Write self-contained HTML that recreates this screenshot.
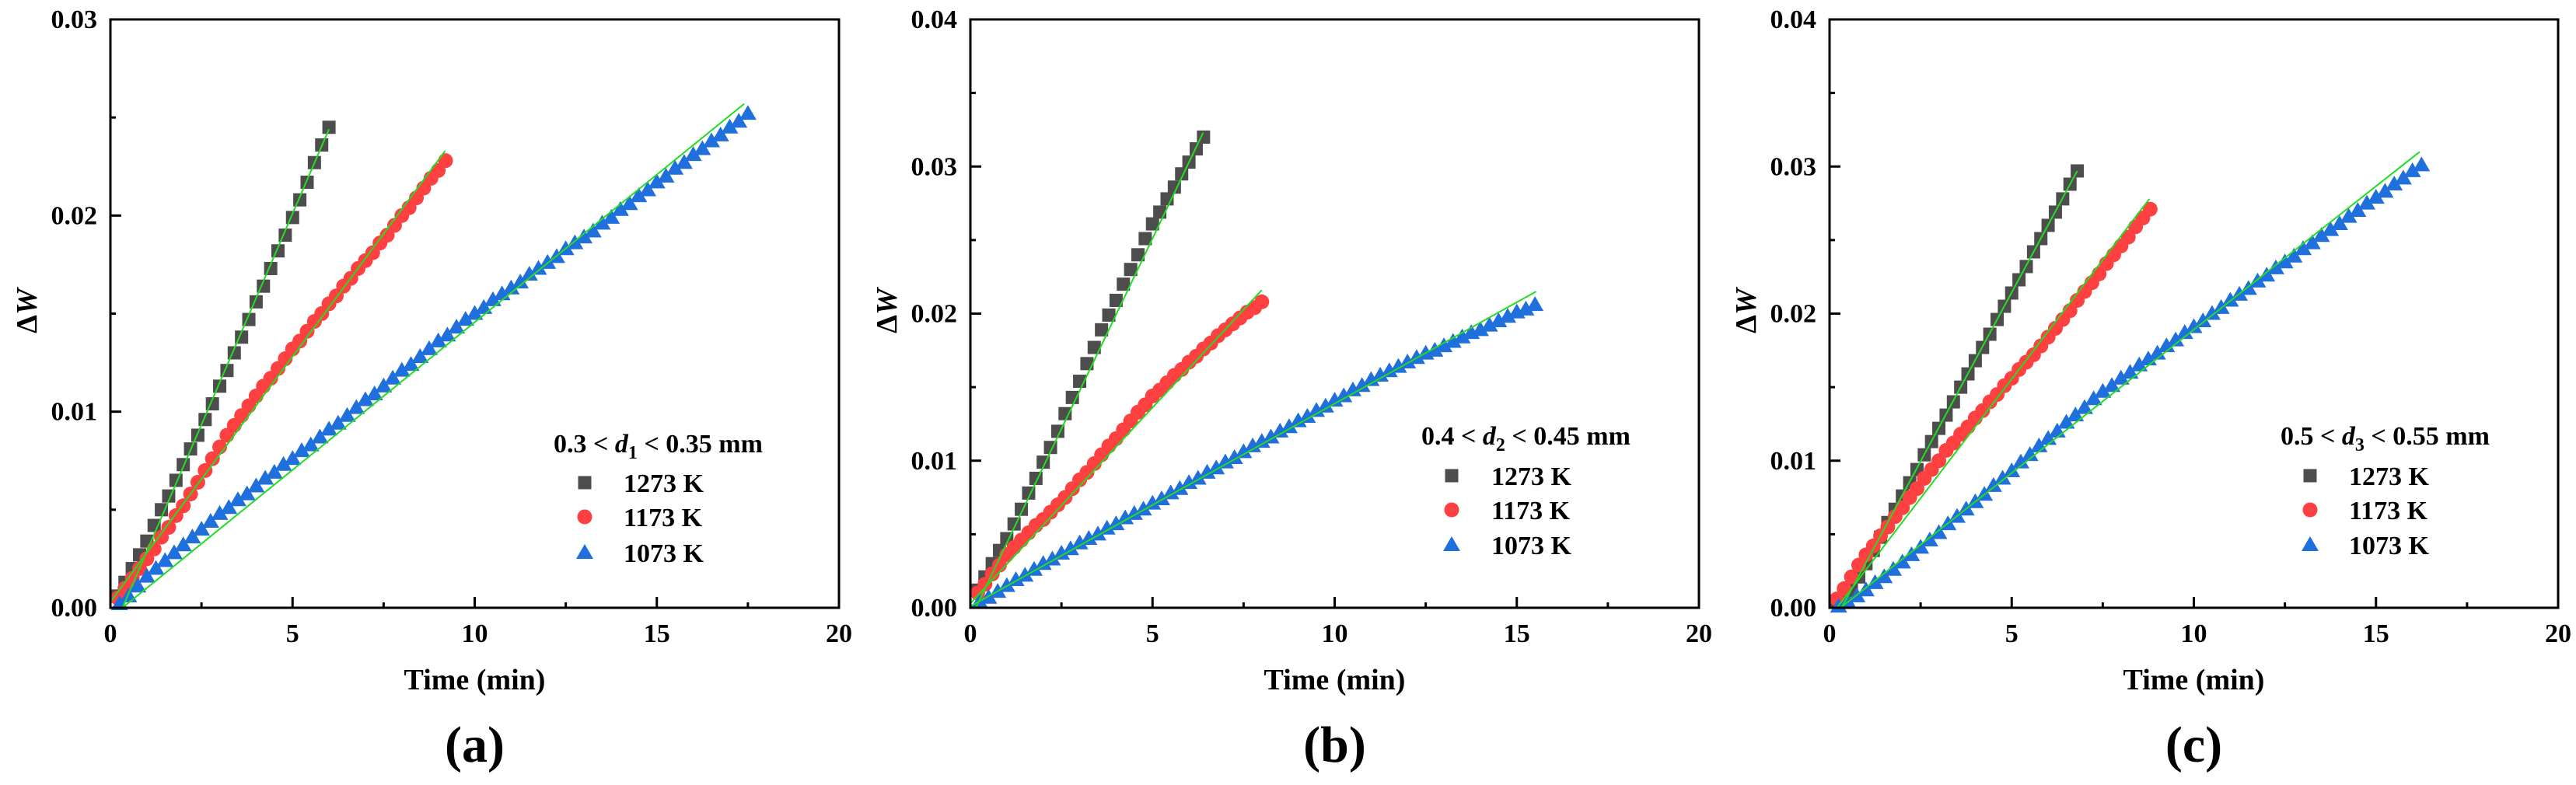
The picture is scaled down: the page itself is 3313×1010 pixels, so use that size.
<!DOCTYPE html>
<html><head><meta charset="utf-8"><style>
html,body{margin:0;padding:0;background:#fff;}
svg{display:block;}
text{font-family:"Liberation Serif",serif;font-weight:bold;fill:#000;}
</style></head><body>
<svg id="fig" width="3313" height="1010" viewBox="0 0 3313 1010" xmlns="http://www.w3.org/2000/svg"></svg>
<script>
// ---- Data (ΔW vs time, min) ----
const a1273 = [.0006,.0013,.0020,.0027,.0034,.0042,.0050,.0057,.0065,.0073,.0081,.0088,.0096,.0104,.0113,.0121,.0130,.0138,.0147,.0156,.0164,.0173,.0182,.0190,.0199,.0208,.0217,.0227,.0236,.0245];
const a1173 = [.0005,.0010,.0015,.0020,.0025,.0030,.0036,.0041,.0047,.0052,.0058,.0064,.0070,.0076,.0082,.0088,.0093,.0098,.0103,.0108,.0113,.0117,.0122,.0127,.0132,.0136,.0141,.0146,.0150,.0155,.0159,.0164,.0168,.0173,.0177,.0181,.0186,.0190,.0195,.0200,.0204,.0209,.0214,.0219,.0223,.0228];
const a1073 = [.0002,.0006,.0011,.0016,.0020,.0024,.0028,.0032,.0036,.0040,.0044,.0048,.0051,.0055,.0058,.0062,.0066,.0069,.0073,.0076,.0080,.0083,.0087,.0091,.0094,.0098,.0102,.0106,.0109,.0113,.0117,.0121,.0124,.0128,.0132,.0136,.0139,.0143,.0147,.0150,.0153,.0157,.0160,.0163,.0166,.0170,.0173,.0176,.0179,.0183,.0186,.0189,.0192,.0196,.0199,.0203,.0206,.0210,.0213,.0217,.0220,.0224,.0227,.0231,.0234,.0238,.0241,.0245,.0248,.0252];
const b1273 = [.0012,.0021,.0030,.0039,.0047,.0057,.0067,.0078,.0088,.0099,.0109,.0120,.0132,.0143,.0154,.0166,.0177,.0189,.0199,.0209,.0220,.0230,.0240,.0251,.0261,.0269,.0278,.0286,.0295,.0303,.0312,.0320];
const b1173 = [.0010,.0016,.0023,.0029,.0036,.0041,.0046,.0051,.0056,.0060,.0065,.0070,.0075,.0081,.0087,.0092,.0098,.0104,.0110,.0115,.0121,.0127,.0133,.0138,.0144,.0148,.0153,.0158,.0162,.0167,.0171,.0176,.0180,.0185,.0189,.0193,.0197,.0201,.0204,.0208];
const b1073 = [.0004,.0007,.0011,.0015,.0019,.0022,.0026,.0030,.0033,.0037,.0040,.0044,.0047,.0050,.0054,.0057,.0061,.0064,.0067,.0071,.0074,.0078,.0081,.0085,.0088,.0092,.0095,.0099,.0102,.0106,.0110,.0113,.0116,.0120,.0123,.0127,.0130,.0134,.0137,.0141,.0144,.0148,.0151,.0155,.0158,.0161,.0164,.0167,.0170,.0173,.0175,.0178,.0181,.0184,.0187,.0189,.0192,.0195,.0198,.0201,.0203,.0206];
const c1273 = [.0004,.0007,.0012,.0021,.0030,.0039,.0048,.0058,.0067,.0076,.0085,.0094,.0104,.0113,.0122,.0131,.0140,.0150,.0159,.0168,.0177,.0186,.0196,.0205,.0214,.0223,.0232,.0242,.0251,.0260,.0269,.0278,.0288,.0297];
const c1173 = [.0006,.0013,.0021,.0029,.0036,.0042,.0049,.0055,.0062,.0068,.0075,.0081,.0088,.0094,.0100,.0107,.0112,.0118,.0123,.0129,.0134,.0140,.0145,.0151,.0156,.0162,.0167,.0172,.0178,.0184,.0190,.0196,.0202,.0209,.0215,.0221,.0227,.0234,.0240,.0246,.0252,.0259,.0265,.0271];
const c1073 = [.0001,.0004,.0008,.0012,.0017,.0021,.0026,.0031,.0036,.0041,.0046,.0051,.0057,.0062,.0067,.0072,.0077,.0083,.0088,.0093,.0099,.0104,.0110,.0115,.0120,.0126,.0131,.0136,.0142,.0147,.0151,.0156,.0160,.0165,.0169,.0173,.0178,.0182,.0187,.0191,.0195,.0200,.0204,.0209,.0213,.0217,.0222,.0226,.0231,.0235,.0239,.0244,.0248,.0253,.0257,.0261,.0266,.0270,.0275,.0279,.0283,.0288,.0292,.0297,.0301];
// fit lines: [t0, w0, t1, w1]
const fitA = [[0.33,0,6.0,0.0244],[0,0.0003,9.19,0.0233],[0.33,0,17.4,0.0257]];
const fitB = [[0.15,0,6.39,0.0323],[0,0.0003,8.0,0.0216],[0,0.0001,15.53,0.0215]];
const fitC = [[0.33,0,6.8,0.0297],[0.2,0,8.78,0.0278],[0.3,0,16.2,0.031]];
const yTicksA = ["0.00","0.01","0.02","0.03"];
const yTicksB = ["0.00","0.01","0.02","0.03","0.04"];
const xTicks = ["0","5","10","15","20"];
const legendLabels = ["1273 K","1173 K","1073 K"];

const NS="http://www.w3.org/2000/svg";
const svg=document.getElementById('fig');
function el(tag,attrs,parent){const e=document.createElementNS(NS,tag);for(const k in attrs)e.setAttribute(k,attrs[k]);(parent||svg).appendChild(e);return e;}
const COL=['#4d4d4d','#ff4040','#1f6fdc'];

function panel(cfg){
  const g=el('g',{});
  
  
  const L=cfg.left,R=L+937,T=25,B=782;
  const xs=t=>L+(t/20)*(R-L);
  const ys=w=>B-(w/cfg.ymax)*(B-T);
  for(let i=0;i<=8;i++){const x=xs(i*2.5);const len=i%2?7:14;
    const tk=el('line',{x1:x,y1:B,x2:x,y2:B-len,stroke:'#000','stroke-width':3},g);
    
    }
  xTicks.forEach((s,i)=>{const t=el('text',{x:xs(i*5),y:826,'text-anchor':'middle','font-size':34},g);t.textContent=s;
    
    });
  const ny=cfg.yt.length-1;
  for(let i=0;i<=ny*2;i++){const y=ys(i*cfg.ymax/(ny*2));const len=i%2?7:14;
    const tk=el('line',{x1:L,y1:y,x2:L+len,y2:y,stroke:'#000','stroke-width':3},g);
    
    }
  cfg.yt.forEach((s,i)=>{const t=el('text',{x:L-17,y:ys(i*cfg.ymax/ny)+11,'text-anchor':'end','font-size':34},g);t.textContent=s;
    
    });
  const series=[{d:cfg.s[0],t0:0.2,st:0.2,m:'sq'},{d:cfg.s[1],t0:0.2,st:0.2,m:'ci'},{d:cfg.s[2],t0:0.25,st:0.25,m:'tr'}];
  series.forEach((s,k)=>{
    const sg=el('g',{fill:COL[k]},g);
    
    
    s.d.forEach((w,i)=>{const x=xs(s.t0+i*s.st),y=ys(w);let m;
      if(s.m==='sq')m=el('rect',{x:x-8.5,y:y-8.5,width:17,height:17},sg);
      else if(s.m==='ci')m=el('circle',{cx:x,cy:y,r:9.5},sg);
      else m=el('polygon',{points:`${x},${y-11} ${x-11},${y+8} ${x+11},${y+8}`},sg);
      
      });
  });
  cfg.fit.forEach((f,k)=>{const ln=el('line',{x1:xs(f[0]),y1:ys(f[1]),x2:xs(f[2]),y2:ys(f[3]),stroke:'#22dd22','stroke-width':2},g);
    
    });
  const fr=el('rect',{x:L,y:T,width:R-L,height:B-T,fill:'none',stroke:'#000','stroke-width':3},g);
  
  
  const xt=el('text',{x:(L+R)/2,y:887,'text-anchor':'middle','font-size':38},g);xt.textContent='Time (min)';
  
  
  const yt=el('text',{transform:`translate(${L-95},400) rotate(-90)`,'text-anchor':'middle','font-size':38},g);
  yt.innerHTML='Δ<tspan font-style="italic">W</tspan>';
  
  
  const pl=el('text',{x:(L+R)/2,y:980,'text-anchor':'middle','font-size':66},g);pl.textContent='('+cfg.id+')';
  
  
  const lg=el('g',{},g);
  
  
  const lt=el('text',{x:L+cfg.lx,y:cfg.ly,'font-size':34},lg);
  lt.innerHTML=cfg.lab[0]+' &lt; <tspan font-style="italic">d</tspan><tspan font-size="24" dy="8">'+cfg.lab[1]+'</tspan><tspan dy="-8"> &lt; '+cfg.lab[2]+' mm</tspan>';
  
  
  legendLabels.forEach((s,k)=>{const by=cfg.ly+cfg.lg[k];const mx=L+cfg.lx+cfg.mx,my=by-12;let m;
    if(k===0)m=el('rect',{x:mx-8.5,y:my-8.5,width:17,height:17,fill:COL[0]},lg);
    else if(k===1)m=el('circle',{cx:mx,cy:my,r:9.5,fill:COL[1]},lg);
    else m=el('polygon',{points:`${mx},${my-11} ${mx-11},${my+8} ${mx+11},${my+8}`,fill:COL[2]},lg);
    
    
    const t=el('text',{x:L+cfg.lx+cfg.tx,y:by,'font-size':34},lg);t.textContent=s;
    
    });
}
panel({id:'a',left:142,ymax:0.03,yt:yTicksA,s:[a1273,a1173,a1073],fit:fitA,lx:570,ly:582,mx:40,tx:90,lg:[51,95,141],lab:['0.3','1','0.35']});
panel({id:'b',left:1248,ymax:0.04,yt:yTicksB,s:[b1273,b1173,b1073],fit:fitB,lx:580,ly:572,mx:39,tx:90,lg:[52,96,141],lab:['0.4','2','0.45']});
panel({id:'c',left:2353,ymax:0.04,yt:yTicksB,s:[c1273,c1173,c1073],fit:fitC,lx:580,ly:572,mx:38,tx:88,lg:[52,96,141],lab:['0.5','3','0.55']});
</script>
</body></html>
